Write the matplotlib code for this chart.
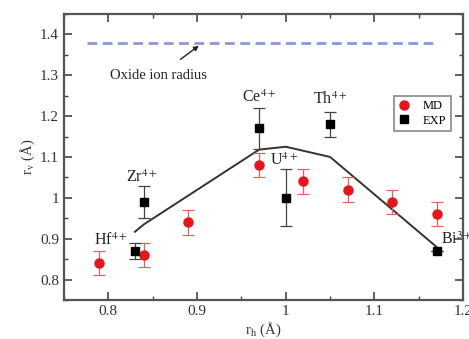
import matplotlib
matplotlib.use("Agg")
import matplotlib.pyplot as plt
from matplotlib.ticker import MultipleLocator
from matplotlib.lines import Line2D

plt.rcParams['font.family'] = ['Liberation Serif', 'DejaVu Serif']
plt.rcParams['mathtext.fontset'] = 'stix'

# MD data
md_x = [0.79, 0.84, 0.89, 0.97, 1.02, 1.07, 1.12, 1.17]
md_y = [0.84, 0.86, 0.94, 1.08, 1.04, 1.02, 0.99, 0.96]
md_err = [0.03, 0.03, 0.03, 0.03, 0.03, 0.03, 0.03, 0.03]

# EXP data
exp_x = [0.83, 0.84, 0.97, 1.00, 1.05, 1.17]
exp_y = [0.87, 0.99, 1.17, 1.00, 1.18, 0.87]
exp_err = [0.02, 0.04, 0.05, 0.07, 0.03, 0.0]

# model line
line_x = [0.83, 0.84, 0.97, 1.00, 1.05, 1.17]
line_y = [0.917, 0.935, 1.118, 1.125, 1.10, 0.88]

oxide_radius = 1.38
oxide_x = [0.776, 1.171]

labels = ['Hf$^{4+}$', 'Zr$^{4+}$', 'Ce$^{4+}$', 'U$^{4+}$', 'Th$^{4+}$', 'Bi$^{3+}$']
label_pos = [(0.821, 0.874), (0.838, 1.03), (0.97, 1.225), (0.998, 1.07),
             (1.05, 1.22), (1.175, 0.878)]
label_ha = ['right', 'center', 'center', 'center', 'center', 'left']

fig = plt.figure(figsize=(4.69, 3.39), dpi=100)
ax = fig.add_axes([0.1365, 0.115, 0.851, 0.844])

ax.plot(oxide_x, [oxide_radius, oxide_radius], ls=(0, (3.5, 2)), color='#8898de', lw=2.0)
ax.plot(line_x, line_y, color='#333333', lw=1.4, zorder=2)

ax.errorbar(md_x, md_y, yerr=md_err, fmt='o', color='#e8141a', ms=6.5,
            ecolor='#e86060', elinewidth=0.9, capsize=4, capthick=0.9, zorder=3)
ax.errorbar(exp_x, exp_y, yerr=exp_err, fmt='s', color='black', ms=6,
            ecolor='#444444', elinewidth=0.9, capsize=4, capthick=0.9, zorder=4)

for t, (x, y), ha in zip(labels, label_pos, label_ha):
    ax.text(x, y, t, ha=ha, va='bottom', fontsize=11.5, color='#222222', clip_on=False)

ax.annotate('Oxide ion radius', xy=(0.902, 1.372), xytext=(0.857, 1.3),
            ha='center', va='center', fontsize=10.5, color='#222222',
            arrowprops=dict(arrowstyle='-|>', color='#222222', lw=1, mutation_scale=7,
                            shrinkA=8, shrinkB=0))

ax.set_xlim(0.75, 1.2)
ax.set_ylim(0.75, 1.45)
ax.xaxis.set_minor_locator(MultipleLocator(0.05))
ax.yaxis.set_minor_locator(MultipleLocator(0.05))
ax.set_xticks([0.8, 0.9, 1.0, 1.1, 1.2])
ax.set_xticklabels(['0.8', '0.9', '1', '1.1', '1.2'])
ax.set_yticks([0.8, 0.9, 1.0, 1.1, 1.2, 1.3, 1.4])
ax.set_yticklabels(['0.8', '0.9', '1', '1.1', '1.2', '1.3', '1.4'])
ax.tick_params(which='both', direction='in', top=True, right=True, colors='#444444',
               labelcolor='#333333', labelsize=11)
ax.tick_params(which='major', length=6, width=1.2)
ax.tick_params(which='minor', length=3, width=1.0)
for s in ax.spines.values():
    s.set_color('#555555')
    s.set_linewidth(1.6)

ax.set_xlabel(r'r$_\mathrm{h}$ (Å)', fontsize=10.5, color='#333333', labelpad=2)
ax.set_ylabel(r'r$_\mathrm{v}$ (Å)', fontsize=10.5, color='#333333', labelpad=2)

handles = [Line2D([], [], ls='none', marker='o', color='#e8141a', ms=6.5),
           Line2D([], [], ls='none', marker='s', color='black', ms=6)]
leg = ax.legend(handles, ['MD', 'EXP'], loc='upper left', bbox_to_anchor=(0.81, 0.735),
                fontsize=9, handlelength=1.0, handletextpad=1.0, borderpad=0.35,
                labelspacing=0.2, fancybox=False, edgecolor='#888888', framealpha=1)
leg.get_frame().set_linewidth(1.2)

fig.savefig('out.png', dpi=100)
